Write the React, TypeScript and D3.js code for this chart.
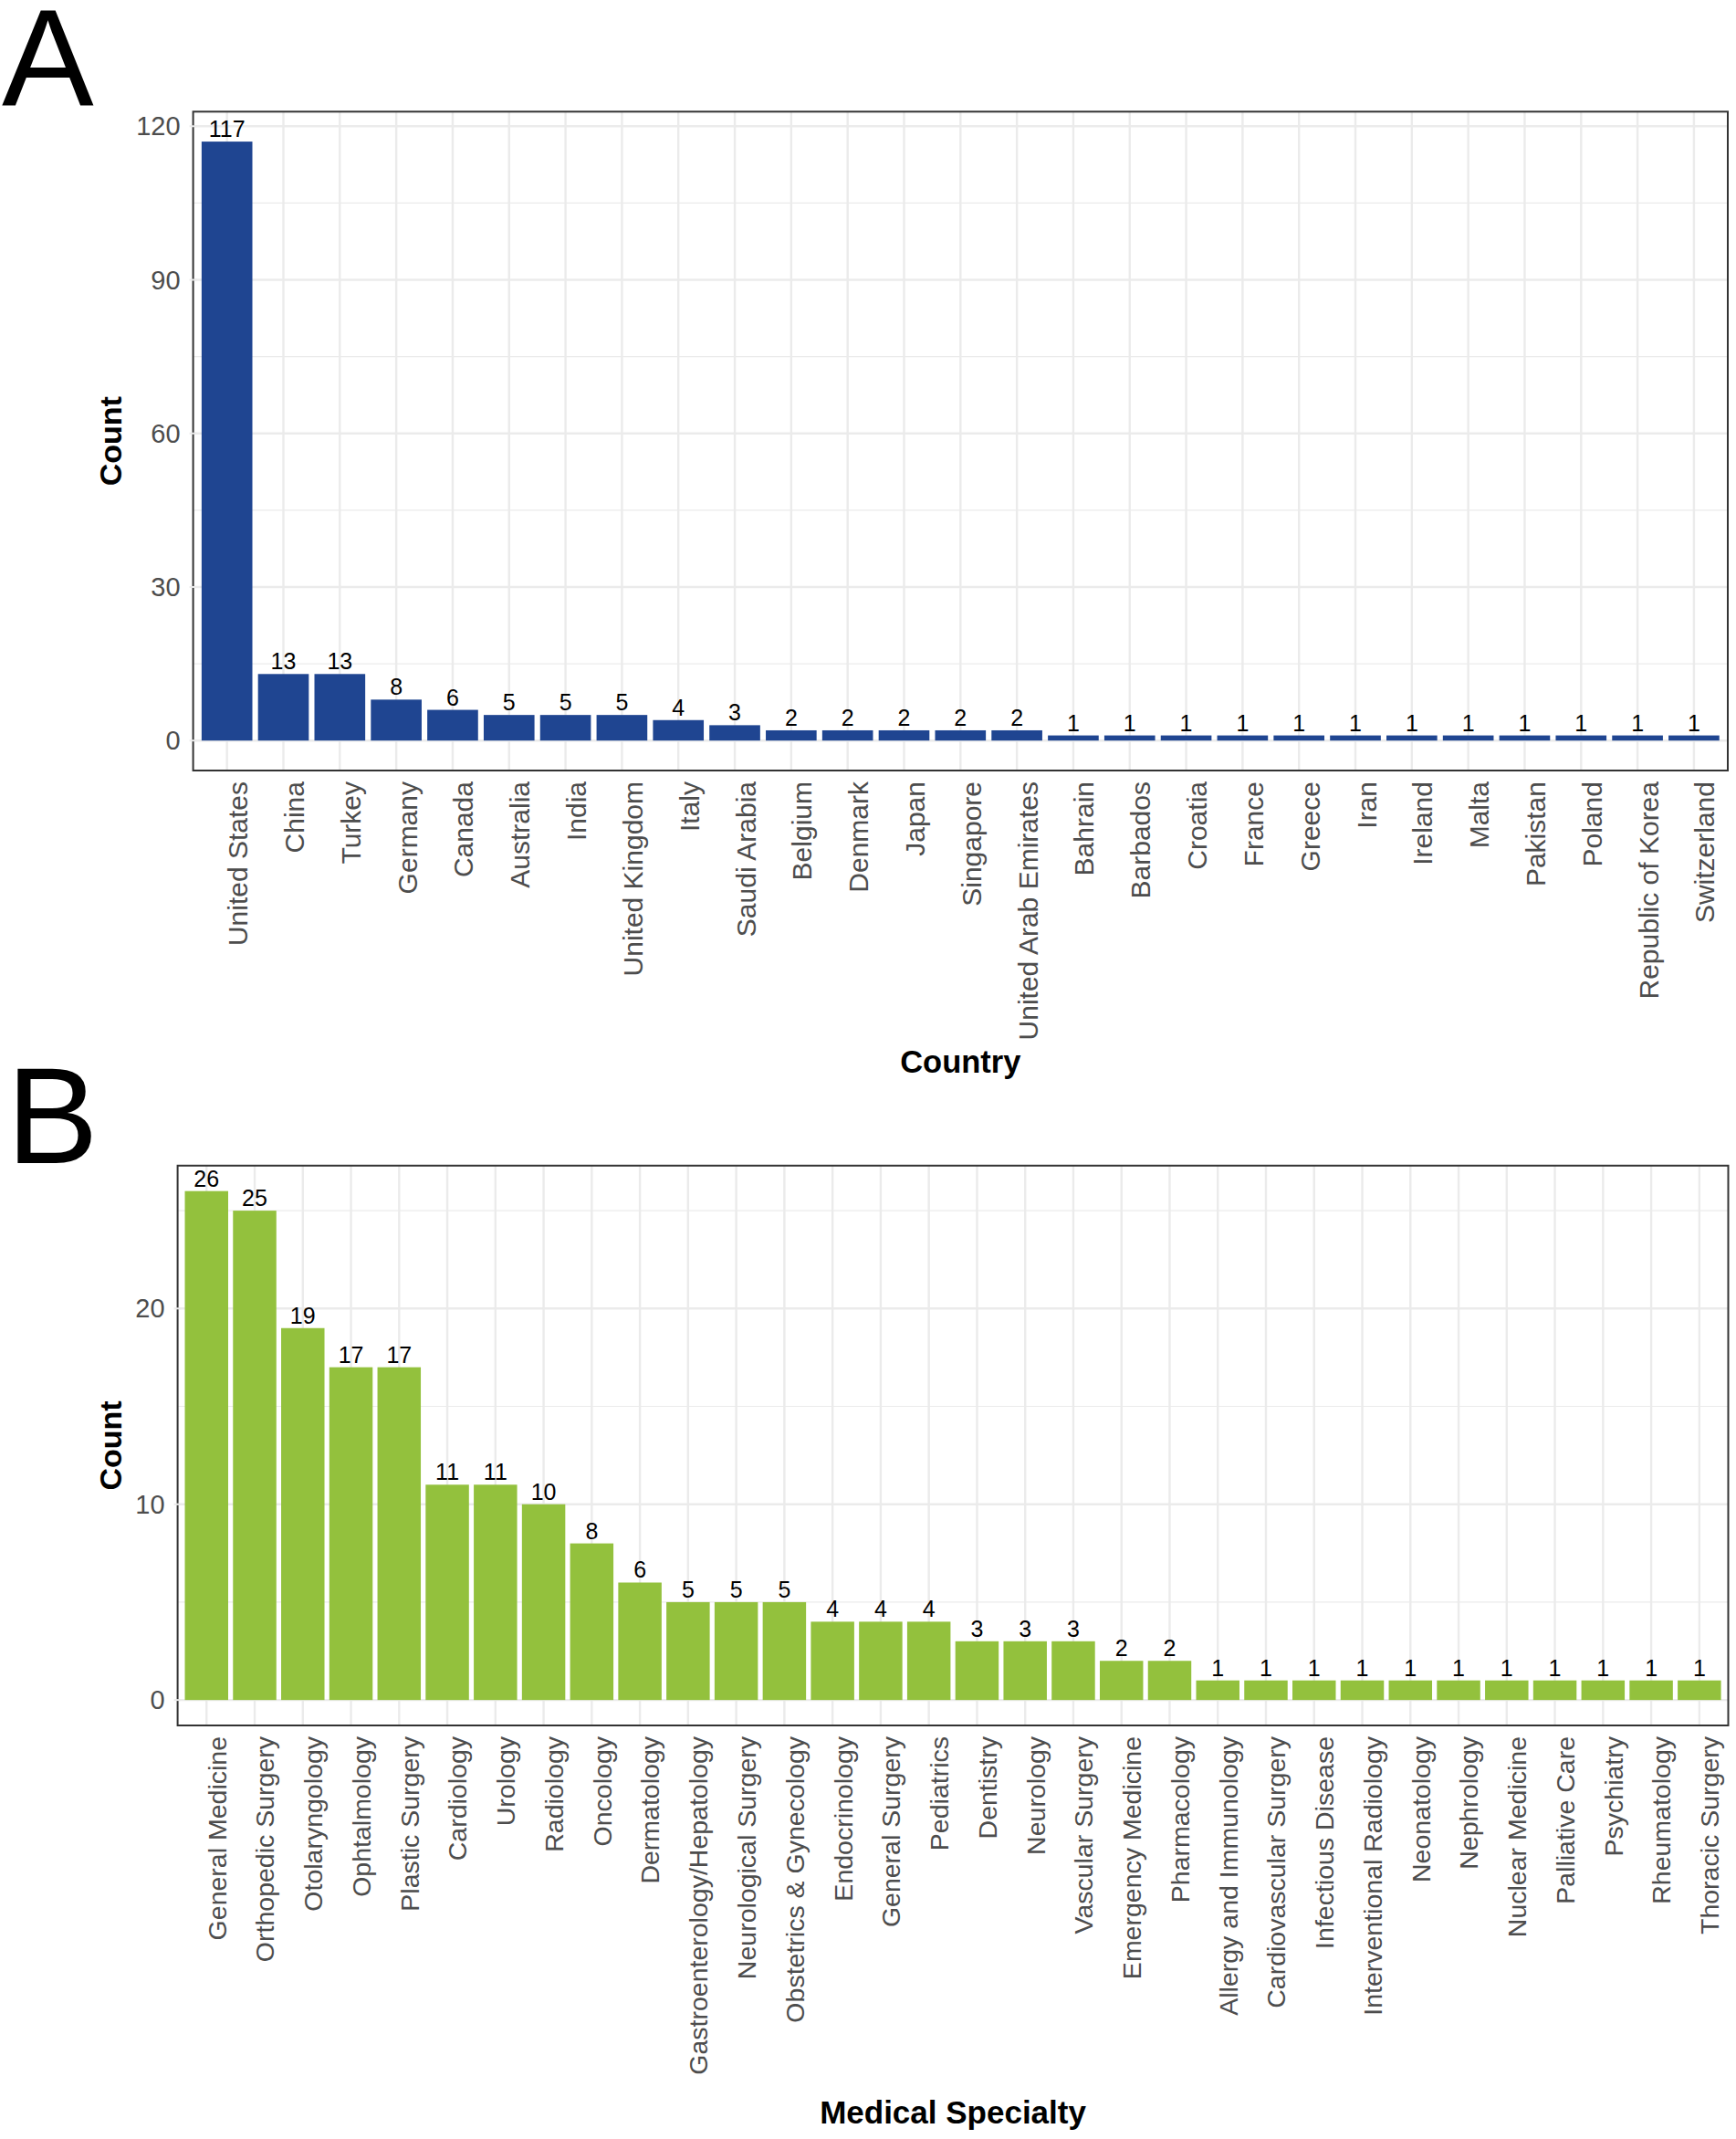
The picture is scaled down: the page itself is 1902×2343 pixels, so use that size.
import * as d3 from 'd3';

// Panel A: publications by country
const countries = [
  'United States', 'China', 'Turkey', 'Germany', 'Canada', 'Australia', 'India',
  'United Kingdom', 'Italy', 'Saudi Arabia', 'Belgium', 'Denmark', 'Japan',
  'Singapore', 'United Arab Emirates', 'Bahrain', 'Barbados', 'Croatia', 'France',
  'Greece', 'Iran', 'Ireland', 'Malta', 'Pakistan', 'Poland', 'Republic of Korea',
  'Switzerland',
];
const countryCounts = [117, 13, 13, 8, 6, 5, 5, 5, 4, 3, 2, 2, 2, 2, 2, 1, 1, 1, 1, 1, 1, 1, 1, 1, 1, 1, 1];
const countryTicks = [0, 30, 60, 90, 120];

// Panel B: publications by medical specialty
const specialties = [
  'General Medicine', 'Orthopedic Surgery', 'Otolaryngology', 'Ophtalmology',
  'Plastic Surgery', 'Cardiology', 'Urology', 'Radiology', 'Oncology', 'Dermatology',
  'Gastroenterology/Hepatology', 'Neurological Surgery', 'Obstetrics & Gynecology',
  'Endocrinology', 'General Surgery', 'Pediatrics', 'Dentistry', 'Neurology',
  'Vascular Surgery', 'Emergency Medicine', 'Pharmacology', 'Allergy and Immunology',
  'Cardiovascular Surgery', 'Infectious Disease', 'Interventional Radiology',
  'Neonatology', 'Nephrology', 'Nuclear Medicine', 'Palliative Care', 'Psychiatry',
  'Rheumatology', 'Thoracic Surgery',
];
const specialtyCounts = [26, 25, 19, 17, 17, 11, 11, 10, 8, 6, 5, 5, 5, 4, 4, 4, 3, 3, 3, 2, 2, 1, 1, 1, 1, 1, 1, 1, 1, 1, 1, 1];
const specialtyTicks = [0, 10, 20];

const FONT = '"Liberation Sans", Arial, Helvetica, sans-serif';

interface PanelProps {
  letter: string;
  letterX: number;
  letterY: number;
  cats: string[];
  values: number[];
  ticks: number[];
  color: string;
  left: number;
  right: number;
  top: number;
  bottom: number;
  xTitle: string;
  xTitleY: number;
  xTitleSize: number;
  tickSize: number;
}

const Panel = (p: PanelProps) => {
  const max = d3.max(p.values) as number;
  const pad = max * 0.05;
  const x = d3.scaleBand<string>()
    .domain(p.cats)
    .range([p.left, p.right])
    .paddingInner(0.1)
    .paddingOuter(0.15);
  const y = d3.scaleLinear().domain([-pad, max + pad]).range([p.bottom, p.top]);

  const step = p.ticks[1] - p.ticks[0];
  const minor = p.ticks.map(t => t + step / 2).filter(t => t < max + pad);
  const cx = (c: string) => (x(c) as number) + x.bandwidth() / 2;
  const midX = (p.left + p.right) / 2;
  const midY = (p.top + p.bottom) / 2;

  return (
    <g>
      <text x={p.letterX} y={p.letterY} fontSize={151} fontFamily={FONT}>{p.letter}</text>

      {/* grid */}
      {minor.map(t => (
        <line key={'m' + t} x1={p.left} x2={p.right} y1={y(t)} y2={y(t)} stroke="#ebebeb" strokeWidth={1.2} />
      ))}
      {p.ticks.map(t => (
        <line key={'g' + t} x1={p.left} x2={p.right} y1={y(t)} y2={y(t)} stroke="#ebebeb" strokeWidth={2.4} />
      ))}
      {p.cats.map(c => (
        <line key={'v' + c} x1={cx(c)} x2={cx(c)} y1={p.top} y2={p.bottom} stroke="#ebebeb" strokeWidth={2.4} />
      ))}

      {/* bars */}
      {p.cats.map((c, i) => (
        <rect key={'b' + c} x={x(c)} width={x.bandwidth()} y={y(p.values[i])}
          height={y(0) - y(p.values[i])} fill={p.color} />
      ))}

      {/* value labels */}
      {p.cats.map((c, i) => (
        <text key={'l' + c} x={cx(c)} y={y(p.values[i]) - 5} textAnchor="middle"
          fontSize={25} fontFamily={FONT} fill="#000">{p.values[i]}</text>
      ))}

      <rect x={p.left} y={p.top} width={p.right - p.left} height={p.bottom - p.top}
        fill="none" stroke="#333333" strokeWidth={2} />

      {/* y axis */}
      {p.ticks.map(t => (
        <g key={'yt' + t}>
          <line x1={p.left - 4} x2={p.left + 4} y1={y(t)} y2={y(t)} stroke="#ebebeb" strokeWidth={2} />
          <text x={p.left - 14} y={y(t)} dy="0.35em" textAnchor="end" fontSize={29}
            fontFamily={FONT} fill="#4d4d4d">{t}</text>
        </g>
      ))}
      <text transform={`translate(133,${midY}) rotate(-90)`} textAnchor="middle"
        fontSize={34} fontWeight="bold" fontFamily={FONT}>Count</text>

      {/* x axis */}
      {p.cats.map(c => (
        <text key={'xt' + c} transform={`translate(${cx(c)},${p.bottom + 12}) rotate(-90)`}
          dy="0.75em" textAnchor="end" fontSize={p.tickSize} fontFamily={FONT} fill="#4d4d4d">{c}</text>
      ))}
      <text x={midX} y={p.xTitleY} textAnchor="middle" fontSize={p.xTitleSize}
        fontWeight="bold" fontFamily={FONT}>{p.xTitle}</text>
    </g>
  );
};

export default function App() {
  return (
    <svg width={1902} height={2343} style={{ position: 'absolute', left: 0, top: 0, background: '#fff' }}>
      <rect width={1902} height={2343} fill="#fff" />
      <Panel letter="A" letterX={2} letterY={115} cats={countries} values={countryCounts}
        ticks={countryTicks} color="#1f4591" left={211.6} right={1893} top={122.3} bottom={844}
        xTitle="Country" xTitleY={1175} xTitleSize={34.5} tickSize={30} />
      <Panel letter="B" letterX={7} letterY={1274} cats={specialties} values={specialtyCounts}
        ticks={specialtyTicks} color="#93c13d" left={194.6} right={1893.5} top={1276.8} bottom={1890}
        xTitle="Medical Specialty" xTitleY={2326} xTitleSize={35} tickSize={28.5} />
    </svg>
  );
}
